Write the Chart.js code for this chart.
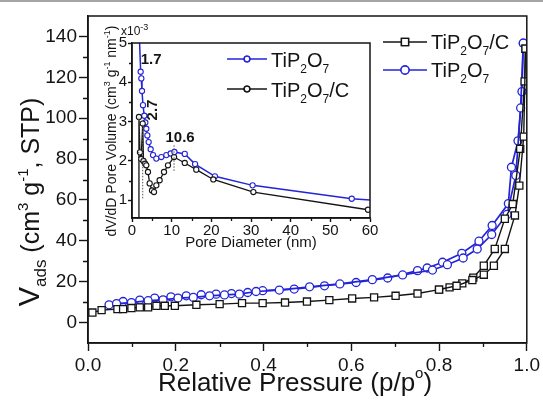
<!DOCTYPE html>
<html>
<head>
<meta charset="utf-8">
<script src="https://cdn.jsdelivr.net/npm/chart.js@4.4.1/dist/chart.umd.min.js"></script>
<style>
  html, body { margin: 0; padding: 0; background: #fff; }
  #wrap { position: relative; width: 543px; height: 401px; overflow: hidden; }
  #main { position: absolute; left: 0; top: 0; }
  #inset { position: absolute; left: 90px; top: 15px; }
  #edge { position: absolute; left: 0; top: 0; width: 543px; height: 2px; background: #a5a5a5; }
</style>
</head>
<body>
<div id="wrap">
  <canvas id="main" width="543" height="401"></canvas>
  <canvas id="inset" width="290" height="245"></canvas>
  <div id="edge"></div>
</div>
<script>
// N2 isotherms, relative pressure vs adsorbed volume
const cAdsP = [0.010, 0.031, 0.067, 0.080, 0.099, 0.118, 0.137, 0.156, 0.175, 0.198, 0.247, 0.300, 0.351, 0.398, 0.449, 0.499, 0.550, 0.602, 0.652, 0.701, 0.751, 0.800, 0.840, 0.876, 0.902, 0.925, 0.950, 0.973, 0.983, 0.993, 0.997];
const cAdsV = [4.9, 6.1, 6.6, 6.6, 7.1, 7.4, 7.4, 8.2, 8.2, 8.2, 8.7, 9.0, 9.5, 9.5, 9.8, 10.3, 11.0, 11.8, 12.3, 13.1, 14.2, 16.1, 18.0, 20.8, 23.4, 27.8, 36.0, 52.4, 67.0, 91.0, 134.0];
const cDesP = [0.997, 0.995, 0.985, 0.968, 0.950, 0.927, 0.902, 0.878, 0.853, 0.824, 0.800];
const cDesV = [134.0, 118.0, 85.0, 58.0, 50.8, 36.0, 27.8, 22.0, 19.2, 17.2, 16.1];

const tAdsP = [0.048, 0.065, 0.099, 0.137, 0.171, 0.205, 0.240, 0.277, 0.311, 0.345, 0.383, 0.436, 0.505, 0.574, 0.648, 0.717, 0.785, 0.819, 0.855, 0.887, 0.920, 0.955, 0.975, 0.986, 0.992];
const tAdsV = [8.7, 9.3, 9.8, 10.7, 11.1, 12.0, 12.3, 13.1, 13.5, 13.9, 15.2, 15.9, 17.5, 18.9, 21.0, 23.3, 25.7, 28.3, 31.6, 36.0, 43.1, 52.9, 72.0, 105.0, 136.7];
const tDesP = [0.992, 0.989, 0.980, 0.965, 0.958, 0.921, 0.891, 0.852, 0.808, 0.773, 0.751, 0.683, 0.611, 0.539, 0.470, 0.398, 0.364, 0.327, 0.292, 0.258, 0.224, 0.189, 0.152, 0.118, 0.080];
const tDesV = [136.7, 113.0, 88.9, 76.0, 58.2, 47.5, 39.8, 33.9, 29.5, 26.7, 25.4, 21.8, 19.6, 18.0, 16.4, 15.6, 14.7, 14.2, 13.9, 13.6, 13.1, 12.6, 12.0, 11.0, 10.3];

// pore size distribution (x10^-3)
const bluD = [1.7, 2.18, 2.35, 2.52, 2.77, 3.10, 3.36, 3.61, 3.87, 4.20, 4.70, 5.30, 6.13, 7.39, 8.66, 9.75, 10.7, 13.3, 15.9, 20.9, 30.4, 55.4, 65.0];
const bluV = [5.6, 4.27, 4.10, 3.78, 3.42, 3.15, 2.98, 2.82, 2.65, 2.48, 2.30, 2.15, 2.06, 2.10, 2.15, 2.19, 2.23, 2.18, 1.92, 1.61, 1.38, 1.04, 0.97];
const blkD = [1.55, 1.75, 2.0, 2.3, 2.7, 2.9, 3.3, 3.6, 4.03, 4.45, 5.04, 5.55, 6.13, 6.97, 8.07, 9.07, 10.6, 13.3, 16.2, 20.5, 30.6, 59.5];
const blkV = [0.4, 3.12, 2.22, 2.05, 2.95, 2.0, 1.93, 1.89, 1.72, 1.43, 1.25, 1.21, 1.38, 1.51, 1.72, 1.89, 2.10, 1.95, 1.78, 1.53, 1.21, 0.76];

const peakText = ['1.7', '2.7', '10.6'];
const peakPos = [1.7, 2.7, 10.6];
const peakTop = [3.12, 2.95, 2.42];
const peakBase = [1.05, 1.05, 1.75];

const mainXTicks = [0, 0.2, 0.4, 0.6, 0.8, 1.0];
const mainXMinor = [0.1, 0.3, 0.5, 0.7, 0.9];
const mainYTicks = [0, 20, 40, 60, 80, 100, 120, 140];
const mainYMinor = [10, 30, 50, 70, 90, 110, 130];
const insetXTicks = [0, 10, 20, 30, 40, 50, 60];
const insetXMinor = [5, 15, 25, 35, 45, 55];
const insetYTicks = [1, 2, 3, 4, 5];
const insetYMinor = [1.5, 2.5, 3.5, 4.5];

const FONT = '"Liberation Sans", Arial, Helvetica, sans-serif';
const INK = '#141414';
const BLUE = '#2323d8';
const INSET_LEFT = 90, INSET_TOP = 15;

const toPts = (xs, ys) => xs.map((x, i) => ({ x: x, y: ys[i] }));

function series(xs, ys, color, shape, r, lw) {
  return {
    data: toPts(xs, ys),
    showLine: true,
    borderColor: color,
    borderWidth: lw,
    pointStyle: shape,
    pointRadius: r,
    pointBorderWidth: 1.3,
    pointBorderColor: color,
    pointBackgroundColor: '#fff',
    tension: 0
  };
}

// text with sub/superscripts: [text, font, dy]
function rich(ctx, parts, x, y, align) {
  let w = 0;
  parts.forEach(p => { ctx.font = p[1] + ' ' + FONT; w += ctx.measureText(p[0]).width; });
  let cx = align === 'center' ? x - w / 2 : (align === 'right' ? x - w : x);
  ctx.textAlign = 'left';
  ctx.textBaseline = 'alphabetic';
  ctx.fillStyle = INK;
  parts.forEach(p => {
    ctx.font = p[1] + ' ' + FONT;
    ctx.fillText(p[0], cx, y + (p[2] || 0));
    cx += ctx.measureText(p[0]).width;
  });
}

function minorTicks(ctx, scale, values, len) {
  ctx.save();
  ctx.strokeStyle = INK;
  ctx.lineWidth = 1.3;
  ctx.beginPath();
  values.forEach(v => {
    const p = Math.round(scale.getPixelForValue(v)) + 0.5;
    if (scale.isHorizontal()) { ctx.moveTo(p, scale.top); ctx.lineTo(p, scale.top + len); }
    else { ctx.moveTo(scale.right, p); ctx.lineTo(scale.right - len, p); }
  });
  ctx.stroke();
  ctx.restore();
}

function frame(ctx, a, lw) {
  ctx.save();
  ctx.strokeStyle = INK;
  ctx.lineWidth = lw;
  ctx.strokeRect(a.left, a.top, a.right - a.left, a.bottom - a.top);
  ctx.restore();
}

function legendRow(ctx, x0, x1, y, color, shape, r, label, size, base) {
  ctx.save();
  ctx.strokeStyle = color;
  ctx.lineWidth = 1.6;
  ctx.beginPath(); ctx.moveTo(x0, y); ctx.lineTo(x1, y); ctx.stroke();
  Chart.helpers.drawPoint(ctx, { pointStyle: shape, radius: r, borderWidth: 1.3 }, (x0 + x1) / 2, y);
  ctx.fillStyle = '#fff';
  ctx.strokeStyle = color;
  ctx.lineWidth = 1.3;
  ctx.beginPath();
  if (shape === 'rect') { const s = r * Math.SQRT1_2; ctx.rect((x0 + x1) / 2 - s, y - s, 2 * s, 2 * s); }
  else { ctx.arc((x0 + x1) / 2, y, r, 0, Math.PI * 2); }
  ctx.fill(); ctx.stroke();
  ctx.restore();
  const sub = Math.round(size * 0.62) + 'px';
  const parts = [['TiP', size + 'px'], ['2', sub, 6], ['O', size + 'px'], ['7', sub, 6]];
  if (label === 'C') parts.push(['/C', size + 'px']);
  rich(ctx, parts, x1 + 4, base, 'left');
}

const scaleBase = (ticks, fmt, size, len, pad) => ({
  type: 'linear',
  afterBuildTicks: s => { s.ticks = ticks.map(v => ({ value: v })); },
  ticks: { color: INK, font: { family: FONT, size: size }, padding: pad, callback: fmt, maxRotation: 0, autoSkip: false },
  grid: { display: true, drawOnChartArea: false, drawTicks: true, tickLength: len, tickWidth: 1.4, tickColor: INK },
  border: { display: true, color: INK, width: 1.5 }
});

const mainDecor = {
  id: 'mainDecor',
  afterDraw(chart) {
    const ctx = chart.ctx, a = chart.chartArea;
    frame(ctx, a, 1.5);
    minorTicks(ctx, chart.scales.x, mainXMinor, 4);
    minorTicks(ctx, chart.scales.y, mainYMinor, 5);

    legendRow(ctx, 383, 427, 42, INK, 'rect', 5, 'C', 20, 49);
    legendRow(ctx, 383, 427, 70, BLUE, 'circle', 4, '', 20, 77);

    rich(ctx, [['Relative Pressure (p/p', '26px'], ['o', '15px', -13], [')', '26px']], 295, 391, 'center');

    ctx.save();
    ctx.translate(39, 202);
    ctx.rotate(-Math.PI / 2);
    rich(ctx, [['V', '29px'], ['ads', '17px', 7], [' (cm', '25px'], ['3', '15px', -11], [' g', '25px'], ['-1', '15px', -11], [', STP)', '25px']], 0, 0, 'center');
    ctx.restore();
  }
};

new Chart(document.getElementById('main'), {
  type: 'scatter',
  data: {
    datasets: [
      series(cAdsP, cAdsV, INK, 'rect', 5, 1.4),
      series(cDesP, cDesV, INK, 'rect', 5, 1.4),
      series(tAdsP, tAdsV, BLUE, 'circle', 4, 1.7),
      series(tDesP, tDesV, BLUE, 'circle', 4, 1.7)
    ]
  },
  options: {
    responsive: false,
    animation: false,
    layout: { padding: { top: 16, right: 15, left: 0, bottom: 0 } },
    plugins: { legend: { display: false }, tooltip: { enabled: false } },
    scales: {
      x: Object.assign(scaleBase(mainXTicks, v => v.toFixed(1), 19, 8, 3), { min: 0, max: 1, afterFit: s => { s.height = 58; } }),
      y: Object.assign(scaleBase(mainYTicks, v => v, 19, 9, 2), { min: -10, max: 150, afterFit: s => { s.width = 88; } })
    }
  },
  plugins: [mainDecor]
});

const insetDecor = {
  id: 'insetDecor',
  beforeDraw(chart) {
    const ctx = chart.ctx, a = chart.chartArea;
    ctx.save();
    ctx.fillStyle = '#fff';
    ctx.fillRect(a.left, a.top, a.right - a.left, a.bottom - a.top);
    ctx.restore();
  },
  afterDatasetsDraw(chart) {
    const ctx = chart.ctx, x = chart.scales.x, y = chart.scales.y;
    // peak markers
    ctx.save();
    ctx.strokeStyle = '#555';
    ctx.lineWidth = 1;
    ctx.setLineDash([1.5, 1.5]);
    peakPos.forEach((p, i) => {
      const px = x.getPixelForValue(p);
      ctx.beginPath();
      ctx.moveTo(px, y.getPixelForValue(peakBase[i]));
      ctx.lineTo(px, y.getPixelForValue(peakTop[i]));
      ctx.stroke();
    });
    ctx.restore();
  },
  afterDraw(chart) {
    const ctx = chart.ctx, a = chart.chartArea, x = chart.scales.x;
    frame(ctx, a, 1.5);
    minorTicks(ctx, chart.scales.x, insetXMinor, 3);
    minorTicks(ctx, chart.scales.y, insetYMinor, 3);

    ctx.save();
    ctx.translate(-INSET_LEFT, -INSET_TOP);
    const ox = INSET_LEFT;

    // peak labels
    rich(ctx, [[peakText[0], 'bold 15px']], x.getPixelForValue(peakPos[0]) + ox + 2, 64, 'left');
    rich(ctx, [[peakText[2], 'bold 15px']], x.getPixelForValue(peakPos[2]) + ox + 6, 142, 'center');
    ctx.save();
    ctx.translate(x.getPixelForValue(peakPos[1]) + ox + 14, 110);
    ctx.rotate(-Math.PI / 2);
    rich(ctx, [[peakText[1], 'bold 15px']], 0, 0, 'center');
    ctx.restore();

    legendRow(ctx, 227, 267, 59, BLUE, 'circle', 2.8, '', 20, 67);
    legendRow(ctx, 227, 267, 89, INK, 'circle', 2.8, 'C', 20, 97);

    rich(ctx, [['x10', '12px'], ['-3', '9px', -5]], 121, 35, 'left');
    rich(ctx, [['Pore Diameter (nm)', '15px']], 251, 247, 'center');

    ctx.save();
    ctx.translate(116, 131);
    ctx.rotate(-Math.PI / 2);
    rich(ctx, [['dV/dD Pore Volume (cm', '14px'], ['3', '9px', -6], [' g', '14px'], ['-1', '9px', -6], [' nm', '14px'], ['-1', '9px', -6], [')', '14px']], 0, 0, 'center');
    ctx.restore();

    ctx.restore();
  }
};

const insetSeries = (xs, ys, color, lw) => Object.assign(series(xs, ys, color, 'circle', 2.6, lw), { pointBorderWidth: 1.1 });

new Chart(document.getElementById('inset'), {
  type: 'scatter',
  data: {
    datasets: [
      insetSeries(blkD, blkV, INK, 1.3),
      insetSeries(bluD, bluV, BLUE, 1.5)
    ]
  },
  options: {
    responsive: false,
    animation: false,
    layout: { padding: { top: 28, right: 10, left: 0, bottom: 0 } },
    plugins: { legend: { display: false }, tooltip: { enabled: false } },
    scales: {
      x: Object.assign(scaleBase(insetXTicks, v => v, 15, 4, 0), { min: 0, max: 60, afterFit: s => { s.height = 42; } }),
      y: Object.assign(scaleBase(insetYTicks, v => v, 15, 4, 1), { min: 0.55, max: 5, afterFit: s => { s.width = 42; } })
    }
  },
  plugins: [insetDecor]
});
</script>
</body>
</html>
